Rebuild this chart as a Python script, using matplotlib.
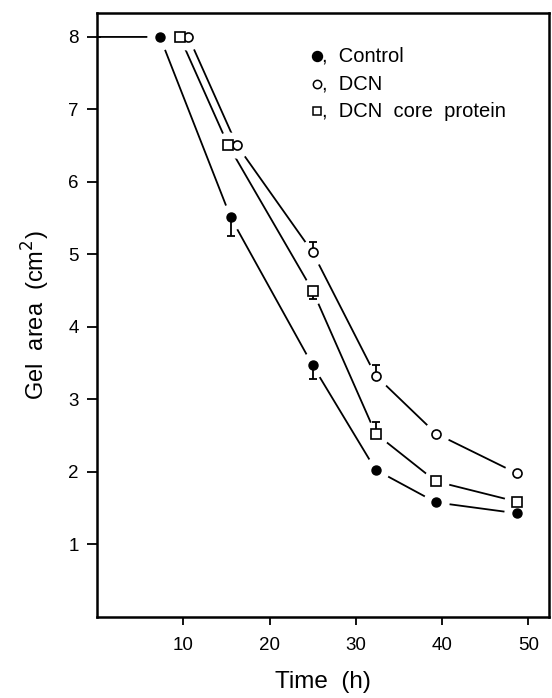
import matplotlib
matplotlib.use("Agg")
import matplotlib.pyplot as plt

plt.rcParams['font.family'] = ['Liberation Sans', 'DejaVu Sans']

# Data (time in h, gel area in cm^2)
ctrl_t = [0, 7.3, 15.5, 25.0, 32.3, 39.3, 48.7]
ctrl_y = [8.0, 8.0, 5.51, 3.47, 2.03, 1.58, 1.43]
ctrl_err_lo = [0, 0, 0.25, 0.19, 0, 0, 0]

dcn_t = [10.6, 16.2, 25.0, 32.3, 39.3, 48.7]
dcn_y = [8.0, 6.51, 5.03, 3.33, 2.53, 1.98]
dcn_err_hi = [0, 0, 0.14, 0.15, 0, 0]

core_t = [9.6, 15.2, 25.0, 32.3, 39.3, 48.7]
core_y = [8.0, 6.51, 4.50, 2.53, 1.87, 1.59]
core_err_lo = [0, 0, 0.12, 0, 0, 0]
core_err_hi = [0, 0, 0, 0.16, 0, 0]

xticks = [10, 20, 30, 40, 50]
yticks = [1, 2, 3, 4, 5, 6, 7, 8]
legend_labels = [',  Control', ',  DCN', ',  DCN  core  protein']

fig = plt.figure(figsize=(5.52, 6.98), dpi=100)
ax = fig.add_axes([97/552, 1-617/698, 452/552, 604/698])

lw = 1.3
ax.plot(ctrl_t, ctrl_y, color='black', lw=lw, zorder=1)
ax.plot(dcn_t, dcn_y, color='black', lw=lw, zorder=1)
ax.plot(core_t, core_y, color='black', lw=lw, zorder=1)

# white halos to produce gaps between lines and markers
halo = 19
ax.plot(ctrl_t[1:], ctrl_y[1:], ls='none', marker='o', ms=halo, mfc='white', mec='none', zorder=2)
ax.plot(dcn_t, dcn_y, ls='none', marker='o', ms=halo, mfc='white', mec='none', zorder=2)
ax.plot(core_t, core_y, ls='none', marker='o', ms=halo, mfc='white', mec='none', zorder=2)

# error bars
ekw = dict(fmt='none', ecolor='black', elinewidth=1.3, capsize=3, capthick=1.3, zorder=3)
ax.errorbar(ctrl_t, ctrl_y, yerr=[ctrl_err_lo, [0]*len(ctrl_t)], **ekw)
ax.errorbar(dcn_t, dcn_y, yerr=[[0]*len(dcn_t), dcn_err_hi], **ekw)
ax.errorbar(core_t, core_y, yerr=[core_err_lo, core_err_hi], **ekw)

ms = 6.5
ax.plot(ctrl_t[1:], ctrl_y[1:], ls='none', marker='o', ms=ms, mfc='black', mec='black', zorder=4)
ax.plot(dcn_t, dcn_y, ls='none', marker='o', ms=ms, mfc='white', mec='black', mew=1.2, zorder=4)
ax.plot(core_t, core_y, ls='none', marker='s', ms=ms, mfc='white', mec='black', mew=1.2, zorder=4)

ax.set_xlim(0, 52.4)
ax.set_ylim(0, 8.33)
ax.set_xticks(xticks)
ax.set_yticks(yticks)
ax.tick_params(direction='out', width=1.3, labelsize=13.5)
ax.tick_params(axis='x', length=5.5, pad=9)
ax.tick_params(axis='y', length=7, pad=6)
for s in ax.spines.values():
    s.set_linewidth(1.8)

ax.set_xlabel('Time  (h)', fontsize=17.5)
ax.xaxis.set_label_coords(0.5, -0.09)
ax.set_ylabel('Gel  area  (cm$^2$)', fontsize=17)
ax.yaxis.set_label_coords(-0.10, 0.5)

# legend: marker glyphs followed by text
leg_y = [0.929, 0.882, 0.837]
leg_markers = [dict(marker='o', ms=7.2, mfc='black', mec='black'),
               dict(marker='o', ms=6.0, mfc='white', mec='black', mew=1.1),
               dict(marker='s', ms=5.6, mfc='white', mec='black', mew=1.1)]
for y, lab, mk in zip(leg_y, legend_labels, leg_markers):
    ax.plot([0.487], [y], transform=ax.transAxes, ls='none', **mk)
    ax.text(0.498, y, lab, transform=ax.transAxes, fontsize=14.5, va='center', ha='left')

fig.savefig('out.png', dpi=100)
